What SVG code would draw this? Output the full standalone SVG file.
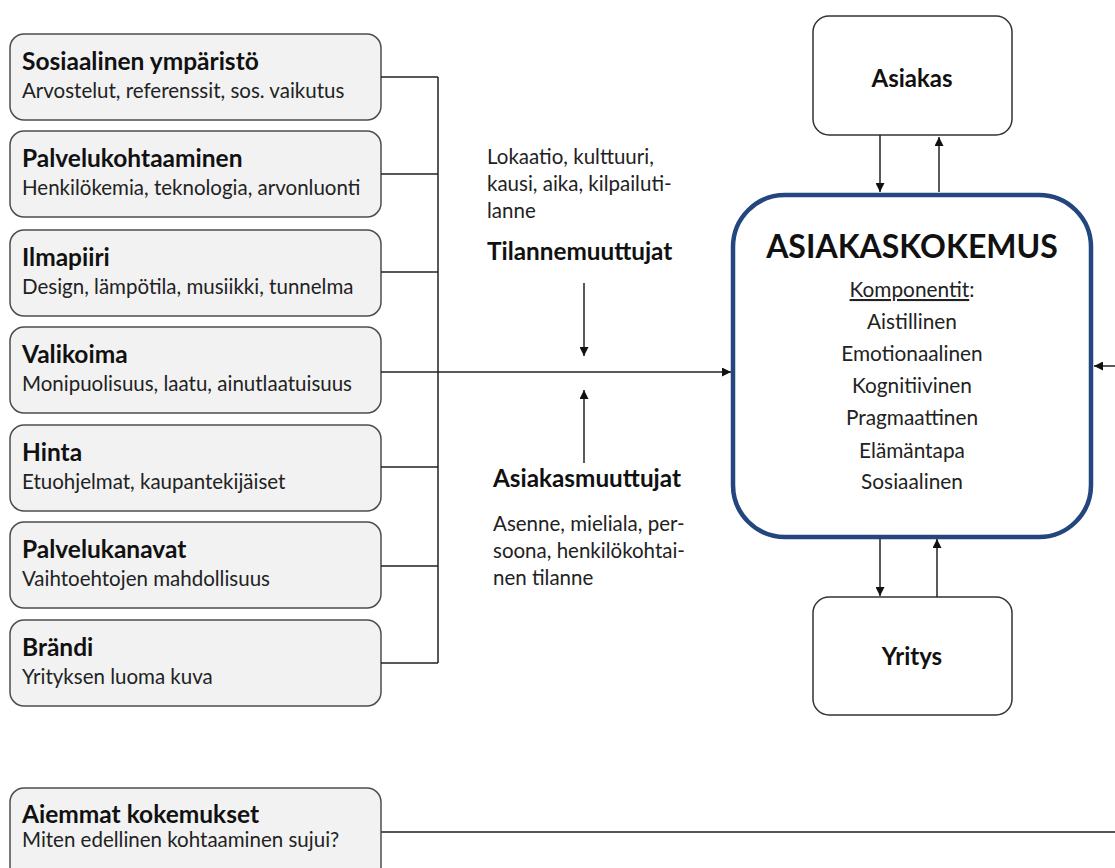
<svg xmlns="http://www.w3.org/2000/svg" width="1115" height="868" viewBox="0 0 1115 868">
  <style>
    .factor { fill: #f2f2f2; stroke: #4d4d4d; stroke-width: 1.5; }
    .plain { fill: #ffffff; stroke: #333333; stroke-width: 1.5; }
    .core { fill: #ffffff; stroke: #24467e; stroke-width: 4.5; }
    .title { font-family: Lato, "Open Sans", sans-serif; font-weight: bold; font-size: 24.5px; fill: #111111; }
    .sub { font-family: Lato, "Open Sans", sans-serif; font-size: 20.5px; fill: #222222; }
    .mid { font-family: Lato, "Open Sans", sans-serif; font-size: 20.5px; fill: #222222; }
    .midb { font-family: Lato, "Open Sans", sans-serif; font-weight: bold; font-size: 24.3px; fill: #111111; }
    .comp { font-family: Lato, "Open Sans", sans-serif; font-size: 20.8px; fill: #222222; text-anchor: middle; }
    .big { font-family: Lato, "Open Sans", sans-serif; font-weight: bold; font-size: 32px; fill: #111111; text-anchor: middle; }
    .lbl { font-family: Lato, "Open Sans", sans-serif; font-weight: bold; font-size: 24px; fill: #111111; text-anchor: middle; }
    .wire { fill: none; stroke: #222222; stroke-width: 1.5; }
    .wire-grey { fill: none; stroke: #555555; stroke-width: 2; }
  </style>
  <defs>
    <marker id="arrow" viewBox="0 0 10 10" refX="10" refY="5" markerWidth="9" markerHeight="9" markerUnits="userSpaceOnUse" orient="auto">
      <path d="M0,0 L10,5 L0,10 z" fill="#111111"/>
    </marker>
  </defs>

  <rect width="1115" height="868" fill="#ffffff"/>

  <!-- influencing factors -->
  <g id="sosiaalinen">
    <rect class="factor" x="10" y="34" width="371" height="86" rx="14"/>
    <text class="title" x="22" y="70">Sosiaalinen ympäristö</text>
    <text class="sub" x="22" y="98">Arvostelut, referenssit, sos. vaikutus</text>
  </g>
  <g id="palvelukohtaaminen">
    <rect class="factor" x="10" y="131" width="371" height="86" rx="14"/>
    <text class="title" x="22" y="167">Palvelukohtaaminen</text>
    <text class="sub" x="22" y="195">Henkilökemia, teknologia, arvonluonti</text>
  </g>
  <g id="ilmapiiri">
    <rect class="factor" x="10" y="230" width="371" height="86" rx="14"/>
    <text class="title" x="22" y="266">Ilmapiiri</text>
    <text class="sub" x="22" y="294">Design, lämpötila, musiikki, tunnelma</text>
  </g>
  <g id="valikoima">
    <rect class="factor" x="10" y="327" width="371" height="86" rx="14"/>
    <text class="title" x="22" y="363">Valikoima</text>
    <text class="sub" x="22" y="391">Monipuolisuus, laatu, ainutlaatuisuus</text>
  </g>
  <g id="hinta">
    <rect class="factor" x="10" y="425" width="371" height="86" rx="14"/>
    <text class="title" x="22" y="461">Hinta</text>
    <text class="sub" x="22" y="489">Etuohjelmat, kaupantekijäiset</text>
  </g>
  <g id="palvelukanavat">
    <rect class="factor" x="10" y="522" width="371" height="86" rx="14"/>
    <text class="title" x="22" y="558">Palvelukanavat</text>
    <text class="sub" x="22" y="586">Vaihtoehtojen mahdollisuus</text>
  </g>
  <g id="brandi">
    <rect class="factor" x="10" y="620" width="371" height="86" rx="14"/>
    <text class="title" x="22" y="656">Brändi</text>
    <text class="sub" x="22" y="684">Yrityksen luoma kuva</text>
  </g>
  <g id="aiemmat">
    <rect class="factor" x="10" y="788" width="371" height="100" rx="14"/>
    <text class="title" x="22" y="823">Aiemmat kokemukset</text>
    <text class="sub" x="22" y="847">Miten edellinen kohtaaminen sujui?</text>
  </g>

  <!-- moderating variables -->
  <g id="tilannemuuttujat">
    <text class="mid" x="487" y="164">Lokaatio, kulttuuri,</text>
    <text class="mid" x="487" y="191">kausi, aika, kilpailuti-</text>
    <text class="mid" x="487" y="218">lanne</text>
    <text class="midb" x="487" y="260">Tilannemuuttujat</text>
  </g>
  <g id="asiakasmuuttujat">
    <text class="midb" x="493" y="487">Asiakasmuuttujat</text>
    <text class="mid" x="493" y="531">Asenne, mieliala, per-</text>
    <text class="mid" x="493" y="558">soona, henkilökohtai-</text>
    <text class="mid" x="493" y="585">nen tilanne</text>
  </g>

  <!-- customer experience -->
  <g id="asiakaskokemus">
    <rect class="core" x="733" y="195" width="358" height="342" rx="52"/>
    <text class="big" x="912" y="258">ASIAKASKOKEMUS</text>
    <text class="comp" x="912" y="297"><tspan text-decoration="underline">Komponentit</tspan>:</text>
    <text class="comp" x="912" y="329">Aistillinen</text>
    <text class="comp" x="912" y="361">Emotionaalinen</text>
    <text class="comp" x="912" y="393">Kognitiivinen</text>
    <text class="comp" x="912" y="425">Pragmaattinen</text>
    <text class="comp" x="912" y="458">Elämäntapa</text>
    <text class="comp" x="912" y="489">Sosiaalinen</text>
  </g>
  <g id="asiakas">
    <rect class="plain" x="813" y="16" width="199" height="119" rx="16"/>
    <text class="lbl" x="912" y="87">Asiakas</text>
  </g>
  <g id="yritys">
    <rect class="plain" x="813" y="597" width="199" height="118" rx="16"/>
    <text class="lbl" x="912" y="665">Yritys</text>
  </g>

  <!-- connectors -->
  <g id="connectors">
    <path class="wire" d="M381,77 H438 M381,174 H438 M381,272 H438 M381,467 H438 M381,566 H438 M381,663 H438 M438,77 V663"/>
    <path class="wire" d="M381,372 H731" marker-end="url(#arrow)"/>
    <path class="wire" d="M584,283 V356" marker-end="url(#arrow)"/>
    <path class="wire" d="M584,463 V390" marker-end="url(#arrow)"/>
    <path class="wire" d="M880,135 V192" marker-end="url(#arrow)"/>
    <path class="wire" d="M939,192 V137" marker-end="url(#arrow)"/>
    <path class="wire" d="M880,539 V596" marker-end="url(#arrow)"/>
    <path class="wire" d="M937,597 V539" marker-end="url(#arrow)"/>
    <path class="wire" d="M1115,366 H1094" marker-end="url(#arrow)"/>
    <path class="wire-grey" d="M381,832 H1115"/>
  </g>
</svg>
